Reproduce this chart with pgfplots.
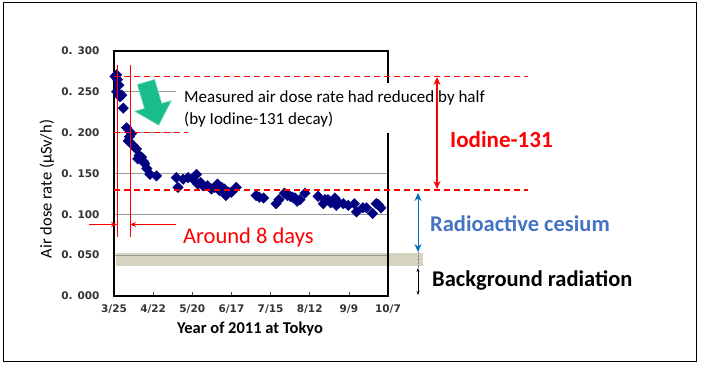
\documentclass[border=0pt]{standalone}
\usepackage{pgfplots}
\pgfplotsset{compat=1.18}
\usepackage{fontspec}
\setmainfont{Carlito}
\newfontfamily\dejavu{DejaVu Sans}
\usetikzlibrary{arrows.meta}
\definecolor{navy}{RGB}{0,0,128}
\definecolor{band}{RGB}{214,211,192}
\definecolor{tealgreen}{RGB}{26,188,140}
\definecolor{cesium}{RGB}{68,114,196}
\definecolor{cesarrow}{RGB}{0,112,192}
\definecolor{ared}{RGB}{255,0,0}
\begin{document}
\begin{tikzpicture}[x=1pt,y=1pt]
\useasboundingbox (0,0) rectangle (704,365);
\draw[line width=1pt,black] (3,4) rectangle (696,362);
% background band
\fill[band] (115.5,99) rectangle (423,112);
\draw[gray,densely dotted] (418,113) -- (418,97);
\begin{axis}[
  scale only axis, width=274pt, height=245pt,
  at={(114pt,69pt)}, anchor=south west,
  xmin=0, xmax=196, ymin=0, ymax=0.3,
  axis line style={line width=2.2pt,black},
  xtick={0,28,56,84,112,140,168,196},
  xticklabels={3/25,4/22,5/20,6/17,7/15,8/12,9/9,10/7},
  ytick={0,0.05,0.1,0.15,0.2,0.25,0.3},
  yticklabels={0. 000,0. 050,0. 100,0. 150,0. 200,0. 250,0. 300},
  ymajorgrids, grid style={gray!80,line width=0.8pt},
  tick align=inside, xtick pos=bottom, ytick pos=left,
  major tick length=4pt,
  xtick style={black!70,line width=0.6pt},
  ytick style={draw=none},
  ticklabel style={font=\dejavu\bfseries\fontsize{10.5}{12}\selectfont,text=black!80},
  yticklabel style={xshift=-11pt},
  xticklabel style={yshift=-5pt},
  clip=false,
]
\addplot[only marks, mark=square*, mark size=3.7pt, mark options={rotate=45,fill=navy,draw=navy}, color=navy] table {
x y
0.7 0.269
1.9 0.271
1.9 0.250
2.5 0.265
3.5 0.258
4.3 0.244
5.5 0.246
6.6 0.230
9.0 0.206
10.2 0.190
11.0 0.195
12.6 0.199
13.8 0.184
16.0 0.180
17.0 0.168
18.0 0.172
19.7 0.170
21.0 0.165
22.0 0.162
23.5 0.156
25.7 0.149
30.4 0.147
44.6 0.145
45.8 0.133
49.4 0.143
53.0 0.145
56.5 0.143
59.0 0.149
60.0 0.137
62.0 0.139
63.7 0.135
67.0 0.135
69.6 0.131
72.0 0.133
74.0 0.137
75.5 0.129
77.0 0.133
79.0 0.131
80.0 0.123
82.0 0.127
84.0 0.127
87.4 0.133
101.7 0.123
104.0 0.121
107.0 0.120
116.0 0.113
118.0 0.118
122.0 0.126
124.0 0.123
126.0 0.122
127.7 0.121
129.5 0.120
131.0 0.116
133.0 0.118
136.6 0.126
146.0 0.122
149.7 0.113
151.0 0.118
153.0 0.118
155.0 0.114
158.0 0.120
159.0 0.111
161.0 0.114
164.0 0.113
167.6 0.111
172.0 0.113
173.5 0.103
178.0 0.108
180.6 0.108
185.0 0.101
187.6 0.113
189.0 0.112
191.0 0.108
};
\end{axis}
% white text box
\fill[white] (176,232) rectangle (505,282);
\node[anchor=west,inner sep=0pt,font=\fontsize{17}{19}\selectfont] at (184,267) {Measured air dose rate had reduced by half};
\node[anchor=west,inner sep=0pt,font=\fontsize{17}{19}\selectfont] at (184,245) {(by Iodine-131 decay)};
% green arrow
\fill[tealgreen,draw=tealgreen!60!white,line width=0.6pt,shift={(146,283)},rotate=-73.6]
  (0,9) -- (25,9) -- (25,19) -- (45,0) -- (25,-19) -- (25,-9) -- (0,-9) -- cycle;
% red dashed lines
\draw[ared,line width=1.4pt,dash pattern=on 6pt off 4pt] (114,288.5) -- (528,288.5);
\draw[ared,line width=1.4pt,dash pattern=on 6pt off 4pt] (114,175) -- (528,175);
\draw[ared,line width=1.4pt,dash pattern=on 6pt off 4pt] (114,232.5) -- (188,232.5);
% red vertical lines
\draw[ared,line width=1pt] (117,300) -- (117,128);
\draw[ared,line width=1pt] (130,300) -- (130,128);
\draw[ared,line width=1pt,-{Stealth[length=6pt,width=5pt]}] (89,140.5) -- (117,140.5);
\draw[ared,line width=1pt,-{Stealth[length=6pt,width=5pt]}] (176,140.5) -- (130,140.5);
\node[anchor=west,inner sep=0pt,text=ared,font=\fontsize{22.5}{26}\selectfont] at (183,128) {Around 8 days};
% right annotations
\draw[ared,line width=1.5pt,{Stealth[length=8pt,width=7pt]}-{Stealth[length=8pt,width=7pt]}] (437,288) -- (437,176);
\node[anchor=west,inner sep=0pt,text=ared,font=\bfseries\fontsize{23}{26}\selectfont] at (450,225) {Iodine-131};
\draw[cesarrow,line width=1pt,{Stealth[length=8pt,width=7pt]}-{Stealth[length=8pt,width=7pt]}] (418,172) -- (418,113);
\node[anchor=west,inner sep=0pt,text=cesium,font=\bfseries\fontsize{22.5}{26}\selectfont] at (430,141) {Radioactive cesium};
\draw[black,line width=0.6pt,{Stealth[length=4pt,width=3pt]}-{Stealth[length=4pt,width=3pt]}] (418,97) -- (418,70);
\node[anchor=west,inner sep=0pt,text=black,font=\bfseries\fontsize{22.5}{26}\selectfont] at (432,85) {Background radiation};
% axis labels
\node[font=\bfseries\fontsize{16.5}{19}\selectfont] at (250,36) {Year of 2011 at Tokyo};
\node[rotate=90,font=\fontsize{16.5}{19}\selectfont] at (47,176) {Air dose rate (µSv/h)};
\end{tikzpicture}
\end{document}
